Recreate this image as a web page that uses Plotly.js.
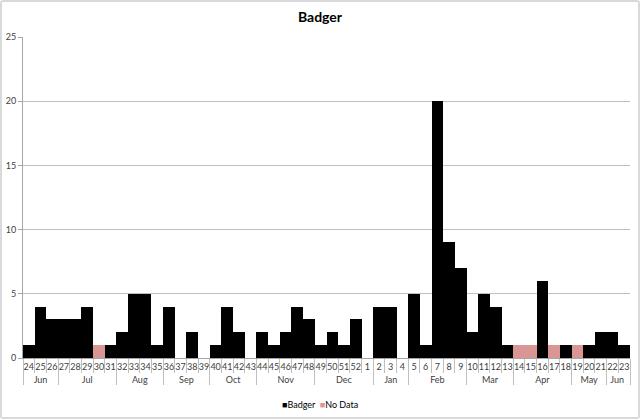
<!DOCTYPE html>
<html>
<head>
<meta charset="utf-8">
<script src="https://cdn.plot.ly/plotly-3.0.1.min.js"></script>
<style>
html,body{margin:0;padding:0;background:#fff;}
#wrap{width:640px;height:419px;box-sizing:border-box;border:2px solid #d9d9d9;border-radius:3px;overflow:hidden;}
#chart{width:636px;height:415px;}
</style>
</head>
<body>
<div id="wrap"><div id="chart"></div></div>
<script>
const weeks = ['24','25','26','27','28','29','30','31','32','33','34','35','36','37','38','39','40','41','42','43','44','45','46','47','48','49','50','51','52','1','2','3','4','5','6','7','8','9','10','11','12','13','14','15','16','17','18','19','20','21','22','23'];
const months = ['Jun','Jun','Jun','Jul','Jul','Jul','Jul','Jul','Aug','Aug','Aug','Aug','Sep','Sep','Sep','Sep','Oct','Oct','Oct','Oct','Nov','Nov','Nov','Nov','Nov','Dec','Dec','Dec','Dec','Dec','Jan','Jan','Jan','Feb','Feb','Feb','Feb','Feb','Mar','Mar','Mar','Mar','Apr','Apr','Apr','Apr','Apr','May','May','May','Jun ','Jun '];
const badger = [1,4,3,3,3,4,null,1,2,5,5,1,4,0,2,0,1,4,2,0,2,1,2,4,3,1,2,1,3,0,4,4,0,5,1,20,9,7,2,5,4,1,null,null,6,null,1,null,1,2,2,1];
const noData = [null,null,null,null,null,null,1,null,null,null,null,null,null,null,null,null,null,null,null,null,null,null,null,null,null,null,null,null,null,null,null,null,null,null,null,null,null,null,null,null,null,null,1,1,null,1,null,1,null,null,null,null];
const yTicks = [0,5,10,15,20,25];
const seriesNames = ['Badger','No Data'];
const seriesColors = ['#000000','#d99694'];

const x = [months, weeks];
const traces = [
  {type:'bar', name:seriesNames[0], x:x, y:badger, marker:{color:seriesColors[0], line:{width:0}}},
  {type:'bar', name:seriesNames[1], x:x, y:noData, marker:{color:seriesColors[1], line:{width:0}}}
];
const fontFam = 'Lato, "Liberation Sans", sans-serif';
const legendText = seriesNames.map((n,i)=>'<span style="color:'+seriesColors[i]+'">■</span>'+n).join('  ');
const layout = {
  width:636, height:415,
  margin:{l:21, r:8, t:35, b:59},
  paper_bgcolor:'#ffffff', plot_bgcolor:'#ffffff',
  font:{family:fontFam, size:9, color:'#404040'},
  title:{text:'<b>Badger</b>', x:0.5, xanchor:'center', y:0.975, yanchor:'top', font:{size:14, color:'#000000', family:fontFam}},
  barmode:'stack', bargap:0,
  showlegend:false,
  annotations:[{xref:'paper', yref:'paper', x:0.489, y:-0.146, xanchor:'center', yanchor:'middle', showarrow:false,
    text:legendText, font:{size:9, color:'#000000', family:fontFam}}],
  xaxis:{type:'multicategory', tickangle:0, showline:true, linecolor:'#a6a6a6', linewidth:1,
    ticks:'outside', tickson:'boundaries', ticklen:14, tickcolor:'#bfbfbf',
    showdividers:true, dividercolor:'#bfbfbf', dividerwidth:1,
    tickfont:{size:9, color:'#404040'}, showgrid:false, automargin:false},
  yaxis:{range:[0,25], tickvals:yTicks, showgrid:true, gridcolor:'#bfbfbf', gridwidth:1,
    showline:true, linecolor:'#a6a6a6', ticks:'outside', ticklen:4, tickcolor:'#a6a6a6',
    tickfont:{size:9, color:'#404040'}, zeroline:false, fixedrange:true, automargin:false}
};
Plotly.newPlot('chart', traces, layout, {displayModeBar:false, staticPlot:true});
</script>
</body>
</html>
